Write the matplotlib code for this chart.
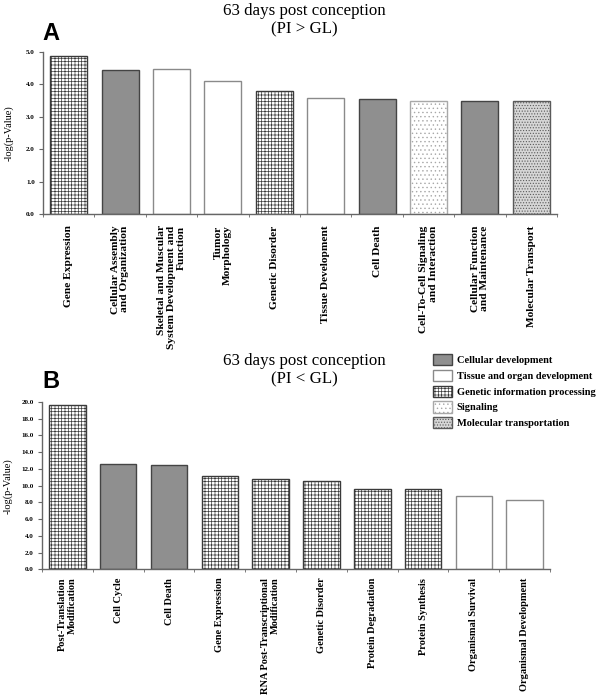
import matplotlib
matplotlib.use("Agg")
import matplotlib.pyplot as plt
from matplotlib.patches import Patch
import numpy as np

# ---------------- data ----------------
cats_a = ["Gene Expression", "Cellular Assembly\nand Organization",
          "Skeletal and Muscular\nSystem Development and\nFunction",
          "Tumor\nMorphology", "Genetic Disorder", "Tissue Development",
          "Cell Death", "Cell-To-Cell Signaling\nand Interaction",
          "Cellular Function\nand Maintenance", "Molecular Transport"]
vals_a = [4.88, 4.46, 4.47, 4.11, 3.80, 3.57, 3.55, 3.49, 3.48, 3.49]
groups_a = ["gen", "cell", "tissue", "tissue", "gen", "tissue", "cell",
            "sig", "cell", "mol"]

cats_b = ["Post-Translation\nModification", "Cell Cycle", "Cell Death",
          "Gene Expression", "RNA Post-Transcriptional\nModification",
          "Genetic Disorder", "Protein Degradation", "Protein Synthesis",
          "Organismal Survival", "Organismal Development"]
vals_b = [19.7, 12.6, 12.5, 11.2, 10.8, 10.5, 9.6, 9.6, 8.8, 8.3]
groups_b = ["gen", "cell", "cell", "gen", "gen", "gen", "gen", "gen",
            "tissue", "tissue"]

yticks_a = [0, 1, 2, 3, 4, 5]
yticks_b = [0, 2, 4, 6, 8, 10, 12, 14, 16, 18, 20]

legend_keys = ["cell", "tissue", "gen", "sig", "mol"]
legend_labels = ["Cellular development", "Tissue and organ development",
                 "Genetic information processing", "Signaling",
                 "Molecular transportation"]

title_a = "63 days post conception\n(PI > GL)"
title_b = "63 days post conception\n(PI < GL)"

# ---------------- styles ----------------
styles = {
    "cell":   dict(facecolor="#8f8f8f", edgecolor="#444444", hatch=None),
    "tissue": dict(facecolor="white", edgecolor="#8a8a8a", hatch=None),
    "gen":    dict(facecolor="white", edgecolor="#3a3a3a", hatch="+++++"),
    "sig":    dict(facecolor="white", edgecolor="#a8a8a8", hatch="...."),
    "mol":    dict(facecolor="#d6d6d6", edgecolor="#5a5a5a", hatch="......"),
}

plt.rcParams["hatch.linewidth"] = 0.5
serif = ["Liberation Serif", "DejaVu Serif"]

fig = plt.figure(figsize=(6.0, 6.96), dpi=100)


def draw(ax, cats, vals, groups, yticks, ylim, lab_size, lab_pad):
    x = np.arange(len(cats))
    for xi, v, g in zip(x, vals, groups):
        st = styles[g]
        ax.bar(xi, v, width=0.72, facecolor=st["facecolor"],
               edgecolor=st["edgecolor"], hatch=st["hatch"], linewidth=1.0,
               zorder=2)
    ax.set_xlim(-0.5, len(cats) - 0.5)
    ax.set_ylim(*ylim)
    ax.set_yticks(yticks)
    ax.set_yticklabels([f"{t:.1f}" for t in yticks], family=serif,
                       fontsize=5, fontweight="bold")
    ax.set_xticks(x)
    ax.set_xticklabels(cats, rotation=90, family=serif, fontsize=lab_size,
                       fontweight="bold", ha="center", va="top",
                       multialignment="right", linespacing=1.1)
    ax.set_xticks(np.arange(len(cats) + 1) - 0.5, minor=True)
    ax.tick_params(axis="x", which="major", length=0, pad=lab_pad)
    ax.tick_params(axis="x", which="minor", length=2.5, direction="out",
                   color="#666666")
    ax.tick_params(axis="y", length=3, direction="out", color="#666666",
                   pad=3)
    for s in ["top", "right"]:
        ax.spines[s].set_visible(False)
    for s in ["left", "bottom"]:
        ax.spines[s].set_color("#666666")
        ax.spines[s].set_linewidth(1.0)
    ax.set_ylabel("-log(p-Value)", family=serif, fontsize=7.5, labelpad=4)


ax_a = fig.add_axes([0.0717, 0.692, 0.8566, 0.2333])
draw(ax_a, cats_a, vals_a, groups_a, yticks_a, (0, 5), 8.2, 8)
ax_a.yaxis.set_label_coords(-0.058, 0.5)

ax_b = fig.add_axes([0.070, 0.182, 0.8467, 0.2404])
draw(ax_b, cats_b, vals_b, groups_b, yticks_b, (0, 20), 7.5, 6)
ax_b.yaxis.set_label_coords(-0.057, 0.5)

# titles
fig.text(0.508, 1 - 20 / 696, title_a, ha="center", va="center",
         family=serif, fontsize=12.2, linespacing=1.2)
fig.text(0.508, 1 - 370 / 696, title_b, ha="center", va="center",
         family=serif, fontsize=12.2, linespacing=1.2)

# panel letters
fig.text(0.071, 1 - 33 / 696, "A", ha="left", va="center",
         family=["Liberation Sans", "DejaVu Sans"], fontsize=17,
         fontweight="bold")
fig.text(0.071, 1 - 382 / 696, "B", ha="left", va="center",
         family=["Liberation Sans", "DejaVu Sans"], fontsize=17,
         fontweight="bold")

# legend
handles = []
for k, lab in zip(legend_keys, legend_labels):
    st = styles[k]
    handles.append(Patch(facecolor=st["facecolor"], edgecolor=st["edgecolor"],
                         hatch=st["hatch"], linewidth=1.0, label=lab))
fig.legend(handles=handles, loc="upper left",
           bbox_to_anchor=(0.718, 1 - 352 / 696), frameon=False,
           prop={"family": serif, "size": 7.5, "weight": "bold"},
           handlelength=1.8, handleheight=1.3, handletextpad=0.5,
           labelspacing=0.42, borderpad=0.2, borderaxespad=0)

fig.savefig("out.png", dpi=100)
